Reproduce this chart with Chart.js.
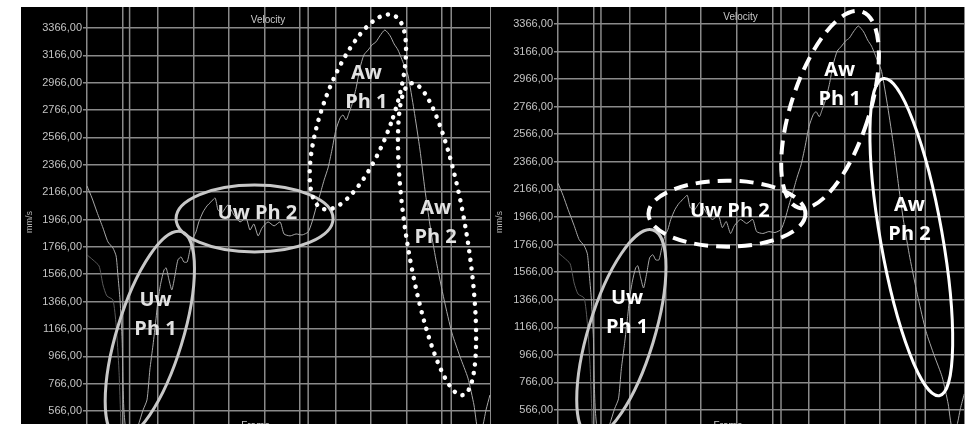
<!DOCTYPE html>
<html>
<head>
<meta charset="utf-8">
<script src="https://cdn.jsdelivr.net/npm/chart.js@4.4.0/dist/chart.umd.min.js"></script>
<style>
  html, body { margin: 0; padding: 0; background: #fff; overflow: hidden; width: 965px; height: 424px; }
  .panel { position: absolute; top: 7px; height: 430px; background: #000; }
  #p1 { left: 21px; width: 470px; }
  #p2 { left: 491px; width: 474px; }
</style>
</head>
<body>
<div class="panel" id="p1"><canvas id="c1" width="470" height="430"></canvas></div>
<div class="panel" id="p2"><canvas id="c2" width="474" height="430"></canvas></div>
<script>
	// ******************************************************** DATA

	var frames = [0, 1.4, 2.8, 4.5, 5.9, 7.3, 8.2, 8.7, 9.3, 9.9,
		10.1, 10.4, 11.0, 12.1, 13.8, 14.9, 15.8, 16.9, 17.7, 18.6,
		19.4, 20.0, 20.8, 21.7, 22.3, 23.1, 23.9, 24.8, 25.6, 26.5,
		27.3, 28.2, 29.0, 29.9, 30.7, 31.5, 32.7, 33.8, 34.9, 36.1,
		36.9, 38.0, 39.7, 41.4, 43.1, 44.8, 45.9, 47.0, 48.2, 49.3,
		51.0, 52.7, 54.4, 55.5, 57.2, 58.9, 60.6, 62.3, 63.4, 64.5,
		65.6, 66.8, 67.9, 69.0, 70.1, 71.3, 72.1, 73.0, 73.8, 74.6,
		75.8, 76.9, 78.0, 79.2, 80.3, 81.4, 82.5, 83.9, 85.4, 86.5,
		87.6, 89.3, 90.4, 92.1, 93.8, 95.2, 96.6, 98.3, 100.6, 102.8,
		105.1, 107.3, 109.0, 110.1, 111.3, 112.4, 113.5];
	var velocity = [2211, 2123, 2021, 1904, 1802, 1758, 1699, 1560, 1378, 1085,
		793, 574, 413, 354, 413, 500, 574, 647, 866, 1049,
		1231, 1378, 1502, 1597, 1612, 1524, 1451, 1560, 1670, 1692,
		1655, 1655, 1743, 1831, 1875, 1948, 2021, 2065, 2094, 2123,
		2036, 2014, 2072, 1999, 1948, 1977, 1889, 1933, 1846, 1904,
		1948, 1919, 1948, 1860, 1846, 1860, 1853, 1875, 1948, 2050,
		2145, 2255, 2343, 2474, 2620, 2708, 2730, 2693, 2745, 2803,
		2927, 3074, 3169, 3205, 3242, 3264, 3308, 3351, 3308, 3249,
		3205, 3096, 3022, 2767, 2474, 2182, 1926, 1670, 1378, 1136,
		961, 807, 610, 427, 442, 574, 683];

	// faint second trace at the start
	var frames2 = [0, 1.7, 3.4, 4.5, 5.6, 7.3, 8.2, 9.0, 9.6];
	var velocity2 = [1707, 1670, 1626, 1487, 1407, 1378, 1195, 866, 427];

	var yTicks = [566, 766, 966, 1166, 1366, 1566, 1766, 1966, 2166, 2366, 2566, 2766, 2966, 3166, 3366];
	var markerFrames = [12, 62.3, 102.6];

	var phaseText = [['Uw', 'Ph 1'], ['Uw Ph 2'], ['Aw', 'Ph 1'], ['Aw', 'Ph 2']];
	var phaseFrame = [19.3, 48.0, 78.7, 98.2];
	var phaseValue = [1270, 2010, 2927, 1944];

	// ******************************************************** RINGS (center in data, radii in px)

	var leftRings = [
		{frame: 17.7, value: 1122, rx: 33, ry: 108, rot: 17,  color: '#c8c8c8', width: 3, dash: []},
		{frame: 47.2, value: 1973, rx: 78.5, ry: 33.5, rot: 0, color: '#c8c8c8', width: 3, dash: []},
		{frame: 76.3, value: 2752, rx: 35, ry: 103, rot: 20,  color: '#ffffff', width: 4.5, dash: [0.1, 8.6], cap: 'round'},
		{frame: 98.6, value: 1822, rx: 30, ry: 158, rot: -9.3, color: '#ffffff', width: 4.5, dash: [0.1, 8.6], cap: 'round'}
	];
	var rightRings = [
		{frame: 17.7, value: 1122, rx: 33, ry: 108, rot: 17,  color: '#c8c8c8', width: 3, dash: []},
		{frame: 47.2, value: 1990, rx: 78.5, ry: 33, rot: 0, color: '#ffffff', width: 4, dash: [14, 8]},
		{frame: 76.0, value: 2745, rx: 39, ry: 103, rot: 18,  color: '#ffffff', width: 4, dash: [14, 8]},
		{frame: 98.7, value: 1820, rx: 31, ry: 161, rot: -10, color: '#ffffff', width: 3, dash: []}
	];

	// ******************************************************** PLUGIN

	var phasePlugin = {
		id: 'phases',
		beforeDatasetsDraw: function(chart) {
			var ctx = chart.ctx, xs = chart.scales.x, a = chart.chartArea;
			ctx.save();
			ctx.strokeStyle = '#8a8a8a';
			ctx.lineWidth = 1.5;
			markerFrames.forEach(function(f) {
				var px = xs.getPixelForValue(f);
				ctx.beginPath();
				ctx.moveTo(px, a.top);
				ctx.lineTo(px, a.bottom);
				ctx.stroke();
			});
			ctx.restore();
		},
		afterDatasetsDraw: function(chart, args, opts) {
			var ctx = chart.ctx, xs = chart.scales.x, ys = chart.scales.y;
			ctx.save();
			opts.rings.forEach(function(r) {
				ctx.beginPath();
				ctx.ellipse(xs.getPixelForValue(r.frame), ys.getPixelForValue(r.value),
					r.rx, r.ry, r.rot * Math.PI / 180, 0, 2 * Math.PI);
				ctx.strokeStyle = r.color;
				ctx.lineWidth = r.width;
				ctx.lineCap = r.cap || 'butt';
				ctx.setLineDash(r.dash);
				ctx.stroke();
			});
			ctx.setLineDash([]);
			ctx.fillStyle = opts.textColor;
			ctx.font = 'bold 20px "Open Sans"';
			ctx.textAlign = 'center';
			ctx.textBaseline = 'middle';
			phaseText.forEach(function(lines, i) {
				var cx = xs.getPixelForValue(phaseFrame[i]);
				var cy = ys.getPixelForValue(phaseValue[i]);
				var top = cy - (lines.length - 1) * 29 / 2;
				lines.forEach(function(t, k) { ctx.fillText(t, cx, top + k * 29); });
			});
			// headers
			ctx.fillStyle = '#c8c8c8';
			ctx.font = '10px "Liberation Sans"';
			ctx.fillText('Velocity', xs.getPixelForValue(51), opts.titleY);
			ctx.textBaseline = 'top';
			ctx.fillText('Frame', xs.getPixelForValue(47.5), 414);
			ctx.restore();
		}
	};

	// ******************************************************** CHARTS

	Chart.defaults.font.family = '"Liberation Sans", Arial, sans-serif';

	function makeChart(id, xMax, yMin, yMax, axisW, rings, textColor, titleY) {
		return new Chart(document.getElementById(id), {
			type: 'line',
			data: {
				datasets: [{
					data: frames.map(function(f, i) { return {x: f, y: velocity[i]}; }),
					borderColor: '#a8a8a8', borderWidth: 1, pointRadius: 0, tension: 0.2
				}, {
					data: frames2.map(function(f, i) { return {x: f, y: velocity2[i]}; }),
					borderColor: '#5a5a5a', borderWidth: 1, pointRadius: 0, tension: 0.2
				}]
			},
			options: {
				responsive: false,
				animation: false,
				layout: {padding: 0},
				plugins: {
					legend: {display: false},
					tooltip: {enabled: false},
					phases: {rings: rings, textColor: textColor, titleY: titleY}
				},
				scales: {
					x: {
						type: 'linear', min: 0, max: xMax,
						ticks: {display: false, stepSize: 10},
						grid: {color: '#8a8a8a', lineWidth: 1.5, drawTicks: false},
						border: {display: false},
						afterFit: function(s) { s.height = 0; s.paddingLeft = 0; s.paddingRight = 0; }
					},
					y: {
						min: yMin, max: yMax,
						afterBuildTicks: function(s) { s.ticks = yTicks.map(function(v) { return {value: v}; }); },
						ticks: {
							color: '#c4c4c4', font: {size: 11}, padding: 1,
							callback: function(v) { return v.toFixed(2).replace('.', ','); }
						},
						grid: {color: '#8a8a8a', lineWidth: 1.5, tickLength: 4},
						border: {display: false},
						title: {display: true, text: 'mm/s', color: '#b0b0b0', font: {size: 9}, padding: {top: 3, bottom: 0}},
						afterFit: function(s) { s.width = axisW; s.paddingTop = 0; s.paddingBottom = 0; }
					}
				}
			},
			plugins: [phasePlugin]
		});
	}

	window.leftChart = makeChart('c1', 113.8, 376, 3519, 66, leftRings, '#e2e2e2', 13);
	window.rightChart = makeChart('c2', 113.7, 370, 3489, 67, rightRings, '#ffffff', 10);
</script>
</body>
</html>
